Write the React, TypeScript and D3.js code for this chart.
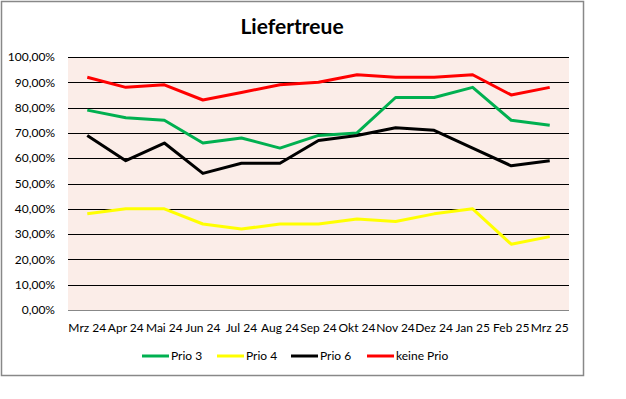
import React, { useRef, useEffect } from 'react';
import * as d3 from 'd3';

const months = ['Mrz 24', 'Apr 24', 'Mai 24', 'Jun 24', 'Jul 24', 'Aug 24', 'Sep 24', 'Okt 24', 'Nov 24', 'Dez 24', 'Jan 25', 'Feb 25', 'Mrz 25'];
const prio3 = [79, 76, 75, 66, 68, 64, 69, 70, 84, 84, 88, 75, 73];
const prio4 = [38, 40, 40, 34, 32, 34, 34, 36, 35, 38, 40, 26, 29];
const prio6 = [69, 59, 66, 54, 58, 58, 67, 69, 72, 71, 64, 57, 59];
const keinePrio = [92, 88, 89, 83, 86, 89, 90, 93, 92, 92, 93, 85, 88];
const yTicks = [0, 10, 20, 30, 40, 50, 60, 70, 80, 90, 100];

const series = [
  { name: 'Prio 3', values: prio3, color: '#00B050' },
  { name: 'Prio 4', values: prio4, color: '#FFFF00' },
  { name: 'Prio 6', values: prio6, color: '#000000' },
  { name: 'keine Prio', values: keinePrio, color: '#FF0000' },
];

const App = () => {
  const svgRef = useRef<SVGSVGElement>(null);

  useEffect(() => {
    const svg = d3.select(svgRef.current);
    svg.selectAll('*').remove();

    const W = 626, H = 399;
    const plot = { left: 68, right: 569, top: 57, bottom: 310 };
    const font = 'Lato, "Open Sans", sans-serif';

    svg.attr('width', W).attr('height', H);

    // Rahmen
    svg.append('rect')
      .attr('x', 1.5).attr('y', 1.5)
      .attr('width', 582).attr('height', 374)
      .attr('fill', '#fff')
      .attr('stroke', '#888').attr('stroke-width', 1.5);

    const x = d3.scaleBand().domain(months).range([plot.left, plot.right]);
    const y = d3.scaleLinear().domain([0, 100]).range([plot.bottom, plot.top]);

    // Hintergrund
    svg.append('rect')
      .attr('x', plot.left).attr('y', plot.top)
      .attr('width', plot.right - plot.left).attr('height', plot.bottom - plot.top)
      .attr('fill', '#FBEDE8');

    // Gitterlinien
    svg.selectAll('.grid')
      .data(yTicks.filter(d => d > 0))
      .enter().append('line')
      .attr('x1', plot.left).attr('x2', plot.right)
      .attr('y1', d => Math.round(y(d)) + 0.5).attr('y2', d => Math.round(y(d)) + 0.5)
      .attr('stroke', '#000').attr('stroke-width', 1);

    svg.append('line')
      .attr('x1', plot.left).attr('x2', plot.right)
      .attr('y1', plot.bottom + 0.5).attr('y2', plot.bottom + 0.5)
      .attr('stroke', '#888').attr('stroke-width', 1);

    // Y-Achse
    svg.selectAll('.ylab')
      .data(yTicks)
      .enter().append('text')
      .attr('x', 55).attr('y', d => y(d))
      .attr('dy', '0.35em')
      .attr('text-anchor', 'end')
      .style('font-family', font).style('font-size', '12px').style('fill', '#000')
      .text(d => d.toFixed(2).replace('.', ',') + '%');

    // X-Achse
    svg.selectAll('.xlab')
      .data(months)
      .enter().append('text')
      .attr('x', d => (x(d) as number) + x.bandwidth() / 2)
      .attr('y', 328).attr('dy', '0.35em')
      .attr('text-anchor', 'middle')
      .style('font-family', font).style('font-size', '12px').style('fill', '#000')
      .text(d => d);

    // Linien
    const line = d3.line<number>()
      .x((d, i) => (x(months[i]) as number) + x.bandwidth() / 2)
      .y(d => y(d));

    series.forEach(s => {
      svg.append('path')
        .datum(s.values)
        .attr('d', line)
        .attr('fill', 'none')
        .attr('stroke', s.color)
        .attr('stroke-width', 3)
        .attr('stroke-linejoin', 'round');
    });

    // Titel
    svg.append('text')
      .attr('x', 292).attr('y', 27).attr('dy', '0.35em')
      .attr('text-anchor', 'middle')
      .style('font-family', font).style('font-size', '21px').style('font-weight', 'bold')
      .text('Liefertreue');

    // Legende
    const legendX = [142, 217, 291, 367];
    const legend = svg.selectAll('.legend-item')
      .data(series)
      .enter().append('g')
      .attr('transform', (d, i) => `translate(${legendX[i]}, 356)`);

    legend.append('line')
      .attr('x1', 0).attr('x2', 27)
      .attr('stroke', d => d.color).attr('stroke-width', 3);

    legend.append('text')
      .attr('x', 29).attr('dy', '0.35em')
      .style('font-family', font).style('font-size', '12px').style('fill', '#000')
      .text(d => d.name);
  }, []);

  return (
    <svg ref={svgRef} style={{ position: 'absolute', left: 0, top: 0 }} />
  );
};

export default App;
